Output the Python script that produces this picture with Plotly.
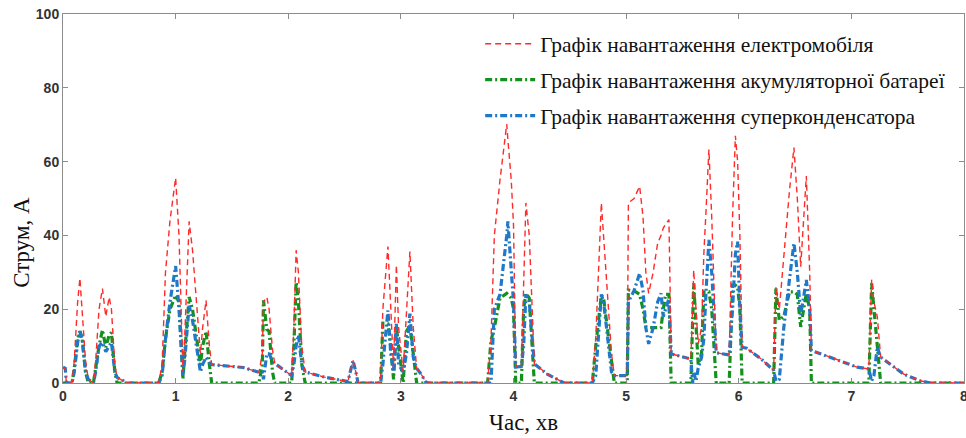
import plotly.graph_objects as go

# time, min
time = [0.00, 0.02, 0.03, 0.08, 0.10, 0.13, 0.15, 0.17, 0.20, 0.225, 0.27,
        0.29, 0.32, 0.35, 0.38, 0.41, 0.43, 0.46, 0.48, 0.54, 0.56, 0.85,
        0.88, 0.91, 0.95, 1.00, 1.03, 1.065, 1.08, 1.12, 1.15, 1.22, 1.24, 1.27, 1.30, 1.32,
        1.45, 1.60, 1.74, 1.77, 1.78, 1.81, 1.83, 1.86, 1.88, 1.96, 2.03,
        2.05, 2.07, 2.09, 2.12, 2.15, 2.32, 2.53, 2.56, 2.575, 2.60, 2.62, 2.82,
        2.84, 2.885, 2.91, 2.935, 2.96, 2.98, 3.02, 3.05, 3.08, 3.11, 3.14, 3.18, 3.22, 3.24, 3.77,
        3.80, 3.83, 3.88, 3.94, 3.95, 3.98, 4.00, 4.02, 4.07, 4.09, 4.11, 4.14, 4.185, 4.30, 4.45, 4.70,
        4.73, 4.78, 4.80, 4.87, 4.895, 5.01,
        5.02, 5.07, 5.12, 5.15, 5.175, 5.20, 5.24, 5.28, 5.31, 5.33, 5.35, 5.38, 5.40, 5.575,
        5.59, 5.60, 5.62, 5.64, 5.67, 5.69, 5.71, 5.735, 5.76, 5.80, 5.915,
        5.945, 5.97, 5.99, 6.01, 6.03, 6.07, 6.20, 6.31,
        6.33, 6.36, 6.40, 6.45, 6.49, 6.52, 6.55, 6.60, 6.63, 6.645, 6.815, 6.95, 7.05, 7.155,
        7.18, 7.20, 7.23, 7.26, 7.465, 7.61, 7.70, 8.00]

# EV load current, A
ev_load = [4.0, 4.0, 0, 0, 6, 22, 28.4, 20, 6, 1, 0,
           6, 20, 25.6, 18, 23.3, 20, 5, 1.5, 0.5, 0, 0,
           5, 30, 44, 55.6, 40, 3, 12, 43.8, 36, 8, 15, 22.4, 10, 5,
           4.7, 4.2, 2.9, 8, 22, 23.3, 20, 9, 5.3, 3.5, 2,
           15, 36, 30, 10, 3, 1.6, 0.4, 4, 6.1, 3, 0, 0,
           20, 37, 18, 4, 32, 15, 3, 20, 35.6, 15, 4, 2.4, 0.3, 0, 0,
           11.5, 40, 55, 70.2, 66, 55, 42.9, 4.3, 4.5, 30, 48.8, 40, 5.2, 2.4, 0, 0,
           12, 48.8, 40, 8, 2, 2,
           48.8, 50, 53.3, 45, 30, 24.3, 30, 37.9, 40, 42, 43, 44.3, 7.9, 6.5,
           20, 30.6, 20, 10.6, 15, 35, 47, 63.3, 45, 8.2, 7.6,
           45, 67, 60, 40, 9.7, 9.4, 6.5, 3.4,
           26, 20, 35, 52, 63.8, 50, 31.5, 56.1, 30, 8.8, 7, 5.5, 4.3, 3.8,
           28, 22, 18, 7, 2.4, 0.6, 0, 0]

# battery load current, A
battery_load = [0, 0, 0, 0, 4, 12, 14, 12, 3, 0, 0,
                4, 10, 14.4, 9.7, 13, 13.7, 3, 0, 0, 0, 0,
                3, 12, 20, 23.8, 22, 1, 8, 23.3, 20, 5, 10, 14, 5, 0,
                0, 0, 0, 5, 22.4, 14.5, 14, 3, 0, 0, 0,
                10, 27.4, 22, 5, 0, 0, 0, 0, 0, 0, 0, 0,
                16.2, 16, 10, 1, 15, 10, 0, 14, 15.6, 8, 0, 0, 0, 0, 0,
                11.5, 15, 23, 24.3, 24, 23, 20, 0, 0, 20, 24.3, 23, 0, 0, 0, 0,
                10, 23.8, 23, 5, 0, 0,
                25.2, 25, 24, 20, 15.2, 15, 15, 15, 15, 20, 24, 24, 0, 0,
                20, 27, 16, 5, 8, 24.7, 24.7, 24.7, 20, 0, 0,
                26.5, 26.5, 26, 20, 0, 0, 0, 0,
                25.6, 17, 18, 24.7, 24.7, 24, 15.2, 24.3, 20, 0, 0, 0, 0, 0,
                27, 20, 10, 0, 0, 0, 0, 0]

# supercapacitor load current, A
supercap_load = [4.3, 4.0, 0, 0, 3, 11, 14, 12, 3, 1, 0,
                 3, 10, 11, 8.5, 10, 11, 3, 1.5, 0.5, 0, 0,
                 2, 12, 22, 31.7, 20, 2, 6, 21, 17, 3, 5, 7, 5.5, 5,
                 4.7, 4.2, 2.9, 3, 1, 8, 7.9, 6, 5.3, 3.5, 2,
                 5, 10, 13, 5, 3, 1.6, 0.4, 4, 6.1, 3, 0, 0,
                 5, 19.7, 8, 3, 16, 5, 3, 8, 18.8, 7, 4, 2.4, 0.3, 0, 0,
                 0, 20, 24, 40, 43.8, 30.6, 22, 4.3, 4.5, 10, 24, 22, 5.2, 2.4, 0, 0,
                 2, 24, 22, 3, 2, 2,
                 22, 25, 29.7, 25, 15, 10.6, 15, 22, 24.3, 18, 20, 22.9, 7.9, 6.5,
                 0, 3, 0.5, 4, 7, 12, 25, 38.8, 30, 8.2, 7.6,
                 20, 35, 38.3, 20, 9.7, 9.4, 6.5, 3.4,
                 0.5, 1, 15, 28, 37.9, 30, 18.4, 27.9, 20, 8.8, 7, 5.5, 4.3, 3.8,
                 0.5, 2, 9.7, 7, 2.4, 0.6, 0, 0]

x_ticks = [0, 1, 2, 3, 4, 5, 6, 7, 8]
y_ticks = [0, 20, 40, 60, 80, 100]

names = ["Графік навантаження електромобіля",
         "Графік навантаження акумуляторної батареї",
         "Графік навантаження суперконденсатора"]
x_title = "Час, хв"
y_title = "Струм, А"

SERIF = "Liberation Serif"

fig = go.Figure()
fig.add_trace(go.Scatter(x=time, y=battery_load, mode="lines", name=names[1],
                         legendgroup="b", legendrank=2,
                         line=dict(color="#14901c", width=3.2, dash="7px,3px,2px,3px")))
fig.add_trace(go.Scatter(x=time, y=supercap_load, mode="lines", name=names[2],
                         legendgroup="c", legendrank=3,
                         line=dict(color="#1f78c8", width=3.2, dash="7px,3px,2px,3px")))
fig.add_trace(go.Scatter(x=time, y=ev_load, mode="lines", name=names[0],
                         legendgroup="a", legendrank=1,
                         line=dict(color="#ff2a2a", width=1.4, dash="6px,4px")))

axis_common = dict(showline=True, linecolor="#8c8c8c", linewidth=1, mirror="ticks",
                   ticks="inside", ticklen=5, tickcolor="#8c8c8c", showgrid=False,
                   zeroline=False, automargin=False, ticklabeloverflow="allow",
                   tickfont=dict(family="Liberation Sans", size=14, color="#333333",
                                 weight="bold"))

fig.update_layout(
    width=966, height=438,
    margin=dict(l=63, r=2, t=14, b=55),
    plot_bgcolor="white", paper_bgcolor="white",
    xaxis=dict(range=[0, 8], tickvals=x_ticks, **axis_common),
    yaxis=dict(range=[0, 100], tickvals=y_ticks, **axis_common),
    legend=dict(x=0.463, y=0.975, xanchor="left", yanchor="top",
                bgcolor="rgba(0,0,0,0)", borderwidth=0,
                traceorder="grouped", tracegroupgap=5, itemwidth=50,
                font=dict(family=SERIF, size=21.5, color="#111111")),
    showlegend=True,
    annotations=[
        dict(text=x_title, xref="paper", yref="paper", x=0.511, y=-0.108,
             xanchor="center", yanchor="middle", showarrow=False,
             font=dict(family=SERIF, size=23, color="#111111")),
        dict(text=y_title, xref="paper", yref="paper", x=-0.0455, y=0.38,
             xanchor="center", yanchor="middle", textangle=-90, showarrow=False,
             font=dict(family=SERIF, size=23, color="#111111")),
    ],
)

fig.write_html("out.html", config={"displayModeBar": False},
               post_script="document.body.style.margin='0';"
                           "document.body.style.overflow='hidden';")
